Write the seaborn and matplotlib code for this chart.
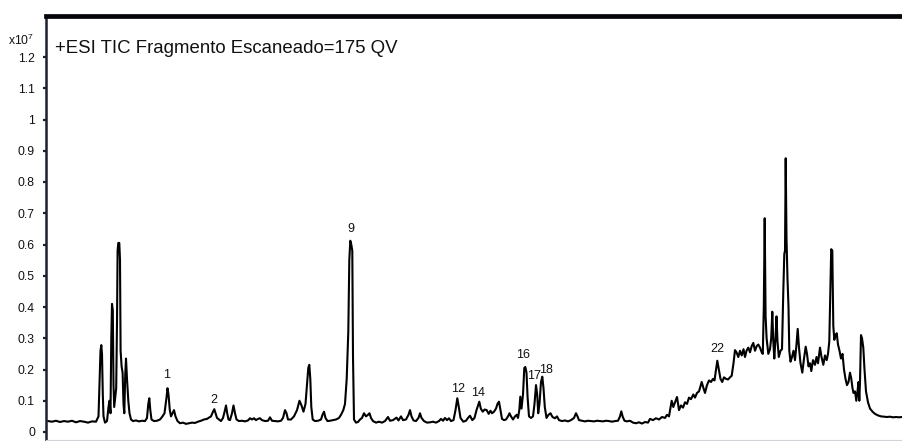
import matplotlib
matplotlib.use("Agg")
import matplotlib.pyplot as plt
import seaborn as sns
import pandas as pd

# ---------------- data (retention position / intensity x10^7) ----------------
scan = [48, 52, 56, 60, 64, 68, 72, 76, 80, 84, 88, 92, 96,
        98.5, 99.5, 100.5, 101.3, 102, 102.8, 103.5, 105, 107, 108.5, 109.5, 110.5,
        111.3, 112, 112.8, 113.5, 114.2, 115.2, 116.2, 117, 117.6, 118.3, 119.3, 120,
        120.6, 121.6, 122.6, 123.5, 124.3, 125.2, 126, 127, 128.3, 129.5, 131, 133,
        136, 139, 142, 145, 147, 148.3, 149.3, 150.3, 151.5, 154, 157, 160, 162.5,
        164.5, 166.5, 167.5, 168.5, 169.8, 171, 172.5, 174, 175.5, 177.5, 180, 183,
        186, 189, 192, 195, 198, 201, 204, 207, 209, 211, 213, 214.3, 215.5, 217,
        219, 221, 223, 225, 226, 227.2, 228.5, 230, 232, 233.5, 235, 236.5, 239,
        242, 245, 248, 250, 252, 254, 256, 258, 260, 262, 265, 268, 270, 272, 275,
        278, 281, 283, 285, 286.5, 288, 291, 294, 297, 299.5, 301.5, 303.5, 305.5,
        307, 308.3, 309.3, 310.3, 311.3, 312.7, 315, 318, 321, 322.5, 324, 325.5,
        327.5, 330, 333, 336, 339, 341, 343.3, 345, 346.7, 348.3, 349.3, 350.3,
        351.3, 352.3, 353, 354, 356, 358, 360, 362, 364, 366, 368, 369.5, 371, 373,
        376, 379, 382, 385, 388, 390, 393, 396.5, 398.5, 401, 403, 406, 408.5, 410,
        411.5, 413.5, 416, 418.5, 420, 421.5, 424, 427, 430, 433, 436, 439, 441,
        443, 445, 447, 449, 451, 453.5, 455.5, 457.3, 458.8, 460.5, 463.3, 466,
        468, 470, 472.3, 474.5, 476.5, 478, 479.3, 480.8, 482.7, 484.7, 486.7,
        488.7, 490.5, 492, 494, 496, 497.5, 499, 500.5, 502, 504, 506, 508, 509.5,
        511, 513, 515, 516.7, 518, 519.3, 520.3, 521.5, 523, 524.3, 525.3, 526.5,
        527.6, 529, 531, 533, 534.5, 536, 537.2, 538.2, 539.5, 541, 542.3, 543.5,
        544.8, 546.5, 548.5, 550.5, 552.5, 555, 557, 559, 562, 565, 568, 571, 574,
        576, 577.5, 579, 582, 585, 588, 591, 594, 597, 600, 603, 606, 609, 612,
        615, 618, 620, 621.3, 622.8, 624.5, 627, 630, 633, 636, 639, 642, 645, 648,
        650, 653, 656, 659, 662, 665, 667, 669, 671.7, 673.3, 675, 677, 679, 681,
        683, 685, 687, 689, 691, 693.3, 695, 697, 699, 701.7, 703.5, 705, 707, 709,
        711, 713, 714.5, 716, 717.3, 718.8, 720.5, 722.2, 724, 726, 728, 730,
        731.7, 733.5, 735, 736.5, 738.3, 740, 741.7, 743.5, 745, 746.5, 748.3, 750,
        751.7, 753.3, 755, 756.7, 758.3, 760, 761.7, 762.8, 763.8, 764.7, 765.6,
        766.6, 768.3, 770, 771.2, 772.3, 773.3, 774.3, 775.5, 776.5, 777.5, 778.8,
        780.5, 782, 783.3, 784.3, 785, 785.7, 786.5, 787.5, 788.5, 789.3, 790.5,
        792, 793.5, 795, 796.5, 797.7, 799, 800.5, 802.3, 804, 805.7, 807, 808.5,
        810, 811.3, 813, 815, 816.5, 818, 820, 821.5, 823.3, 825, 826.7, 828,
        829.3, 830.3, 831.2, 832.3, 833.3, 834.3, 835.5, 836.7, 838, 839.5, 841,
        842.5, 844, 845.5, 847, 848.5, 850, 851.3, 852.5, 853.5, 855, 856.3, 857.5,
        858.5, 859.3, 860, 861, 862, 863.3, 864.5, 866, 868, 870, 872.5, 875, 878,
        881, 884, 887, 890, 893, 896, 899, 902]

intensity = [0.035, 0.033, 0.036, 0.032, 0.035, 0.033, 0.036, 0.031, 0.035, 0.033, 0.030, 0.034, 0.033,
             0.05, 0.15, 0.26, 0.278, 0.25, 0.12, 0.05, 0.03, 0.035, 0.08, 0.10, 0.06,
             0.30, 0.41, 0.39, 0.15, 0.08, 0.11, 0.14, 0.35, 0.58, 0.605, 0.605, 0.55,
             0.26, 0.21, 0.19, 0.09, 0.06, 0.18, 0.235, 0.17, 0.10, 0.06, 0.04, 0.035,
             0.037, 0.034, 0.036, 0.035, 0.045, 0.09, 0.108, 0.07, 0.04, 0.035, 0.036, 0.04, 0.05,
             0.06, 0.11, 0.14, 0.12, 0.07, 0.05, 0.06, 0.07, 0.05, 0.035, 0.028, 0.03,
             0.026, 0.028, 0.03, 0.029, 0.033, 0.036, 0.040, 0.042, 0.046, 0.05, 0.065, 0.073, 0.06, 0.045,
             0.04, 0.035, 0.045, 0.07, 0.085, 0.06, 0.04, 0.038, 0.06, 0.085, 0.06, 0.04, 0.035,
             0.036, 0.034, 0.037, 0.044, 0.04, 0.044, 0.038, 0.042, 0.044, 0.038, 0.035, 0.036, 0.047, 0.036, 0.035,
             0.034, 0.036, 0.045, 0.07, 0.06, 0.04, 0.04, 0.05, 0.07, 0.10, 0.085, 0.065, 0.09,
             0.15, 0.205, 0.215, 0.17, 0.08, 0.04, 0.035, 0.036, 0.04, 0.055, 0.065, 0.045,
             0.035, 0.036, 0.038, 0.04, 0.045, 0.055, 0.07, 0.09, 0.17, 0.32, 0.55, 0.612,
             0.60, 0.58, 0.24, 0.04, 0.03, 0.032, 0.04, 0.045, 0.06, 0.05, 0.055, 0.06, 0.045, 0.035,
             0.03, 0.033, 0.03, 0.035, 0.048, 0.036, 0.038, 0.046, 0.037, 0.05, 0.038, 0.04, 0.055, 0.07,
             0.05, 0.037, 0.035, 0.045, 0.06, 0.045, 0.035, 0.03, 0.031, 0.033, 0.03, 0.035, 0.042,
             0.036, 0.045, 0.038, 0.044, 0.035, 0.038, 0.07, 0.108, 0.08, 0.045, 0.033, 0.036,
             0.045, 0.052, 0.038, 0.045, 0.07, 0.085, 0.097, 0.075, 0.065, 0.072, 0.07,
             0.058, 0.068, 0.06, 0.065, 0.075, 0.09, 0.097, 0.07, 0.042, 0.038, 0.04, 0.05, 0.06,
             0.05, 0.04, 0.05, 0.055, 0.045, 0.07, 0.113, 0.075, 0.12, 0.205, 0.208, 0.19,
             0.11, 0.05, 0.045, 0.05, 0.09, 0.15, 0.12, 0.06, 0.09, 0.16, 0.177, 0.14,
             0.08, 0.045, 0.055, 0.06, 0.048, 0.044, 0.05, 0.038, 0.035, 0.037, 0.034, 0.038, 0.045,
             0.06, 0.05, 0.038, 0.036, 0.034, 0.036, 0.035, 0.034, 0.036, 0.035, 0.034, 0.036, 0.035, 0.033,
             0.035, 0.036, 0.05, 0.066, 0.048, 0.036, 0.034, 0.036, 0.03, 0.028, 0.031, 0.027, 0.032, 0.03,
             0.042, 0.038, 0.044, 0.04, 0.048, 0.045, 0.055, 0.05, 0.10, 0.08, 0.095, 0.112, 0.07, 0.085,
             0.078, 0.095, 0.09, 0.11, 0.105, 0.12, 0.11, 0.125, 0.13, 0.16, 0.14, 0.125, 0.15, 0.165,
             0.16, 0.17, 0.165, 0.2, 0.228, 0.2, 0.17, 0.16, 0.175, 0.17, 0.168, 0.175,
             0.18, 0.22, 0.262, 0.255, 0.24, 0.26, 0.245, 0.265, 0.24, 0.26, 0.27, 0.255,
             0.275, 0.285, 0.26, 0.275, 0.28, 0.27, 0.255, 0.25, 0.40, 0.684, 0.37,
             0.30, 0.25, 0.265, 0.30, 0.385, 0.29, 0.235, 0.30, 0.37, 0.29, 0.24,
             0.26, 0.265, 0.45, 0.57, 0.58, 0.876, 0.62, 0.49, 0.40, 0.26, 0.225,
             0.24, 0.26, 0.23, 0.28, 0.33, 0.27, 0.22, 0.19, 0.235, 0.273, 0.25, 0.21,
             0.22, 0.195, 0.23, 0.215, 0.24, 0.22, 0.27, 0.24, 0.215, 0.245, 0.23, 0.25,
             0.29, 0.45, 0.585, 0.58, 0.34, 0.295, 0.31, 0.316, 0.28, 0.26, 0.235,
             0.25, 0.20, 0.17, 0.15, 0.16, 0.19, 0.17, 0.14, 0.125, 0.13, 0.10, 0.13,
             0.16, 0.10, 0.16, 0.31, 0.30, 0.27, 0.20, 0.13, 0.095, 0.075, 0.065, 0.058, 0.053,
             0.05, 0.049, 0.048, 0.049, 0.047, 0.048, 0.047, 0.048]

peak_labels = ["1", "2", "9", "12", "14", "16", "17", "18", "22"]
peak_label_x = [166.7, 214.3, 350.7, 457.7, 478.3, 523.5, 534.5, 546.5, 717.3]
peak_label_y = [0.182, 0.103, 0.649, 0.139, 0.124, 0.247, 0.178, 0.198, 0.267]

ytick_values = [0, 0.1, 0.2, 0.3, 0.4, 0.5, 0.6, 0.7, 0.8, 0.9, 1.0, 1.1, 1.2]
ytick_labels = ["0", "0.1", "0.2", "0.3", "0.4", "0.5", "0.6", "0.7", "0.8", "0.9", "1", "1.1", "1.2"]

title_text = "+ESI TIC Fragmento Escaneado=175 QV"
scale_text = r"x10$^{7}$"

# ---------------- plotting ----------------
sns.set_style("white")
plt.rcParams["font.family"] = ["Liberation Sans", "DejaVu Sans"]
plt.rcParams["mathtext.fontset"] = "custom"
plt.rcParams["mathtext.rm"] = "Liberation Sans"

df = pd.DataFrame({"scan": scan, "intensity": intensity})

W, H = 902, 441
fig = plt.figure(figsize=(W / 100, H / 100), dpi=100)
ax_left, ax_right = 46, 902
ax_top, ax_bottom = 15.5, 440
ax = fig.add_axes([ax_left / W, (H - ax_bottom) / H,
                   (ax_right - ax_left) / W, (ax_bottom - ax_top) / H])

sns.lineplot(data=df, x="scan", y="intensity", ax=ax, color="black",
             linewidth=1.5, estimator=None, sort=False)

ax.set_xlim(46, 902)
ax.set_ylim(-0.0256, 1.3328)
ax.set_xlabel("")
ax.set_ylabel("")
ax.set_xticks([])
ax.set_yticks(ytick_values)
ax.set_yticklabels(ytick_labels, fontsize=8.7, color="#111111")
ax.tick_params(axis="y", direction="out", length=2, width=1.6, pad=6,
               color="#222222", left=True)

ax.spines["right"].set_visible(False)
ax.spines["top"].set_linewidth(3.4)
ax.spines["top"].set_color("#05050a")
ax.spines["left"].set_linewidth(1.8)
ax.spines["left"].set_color("#1b2030")
ax.spines["bottom"].set_linewidth(0.8)
ax.spines["bottom"].set_color("#cfd3d8")

for lab, lx, ly in zip(peak_labels, peak_label_x, peak_label_y):
    ax.text(lx, ly, lab, ha="center", va="center", fontsize=9, color="#111111")

ax.text(0.0105, 0.923, title_text, transform=ax.transAxes, ha="left",
        va="center", fontsize=13.4, color="#111111")
fig.text(8 / W, (H - 40) / H, scale_text, ha="left", va="center",
         fontsize=8.7, color="#111111")

fig.savefig("out.png", dpi=100)
